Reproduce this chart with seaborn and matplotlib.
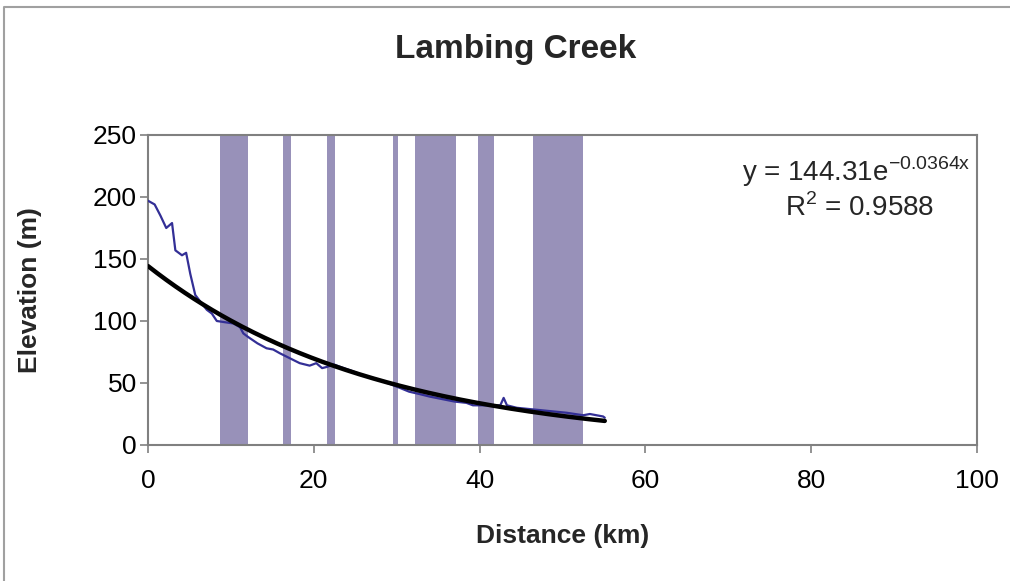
#!/usr/bin/env python3
# -*- coding: utf-8 -*-
"""Longitudinal profile of Lambing Creek with exponential trend and shaded reaches"""
import numpy as np
import pandas as pd
import matplotlib

matplotlib.use("Agg")
import matplotlib.pyplot as plt
from matplotlib.lines import Line2D
import seaborn as sns

# channel profile (distance km, elevation m)
distance_km = [0.0, 0.8, 1.5, 2.2, 2.9, 3.3, 4.1, 4.6, 5.1, 5.7, 6.5, 7.1, 7.7,
               8.3, 9.3, 10.3, 11.1, 11.5, 12.1, 13.2, 14.3, 15.1, 15.9, 17.1,
               18.3, 19.5, 20.3, 21.0, 21.6, 22.4, 23.2, 24.5, 26.0, 27.2, 28.5,
               30.4, 31.5, 32.8, 34.0, 35.5, 37.0, 38.4, 39.2, 40.5, 41.8, 42.5,
               42.9, 43.3, 44.5, 46.0, 47.5, 49.0, 50.5, 51.5, 52.5, 53.3, 54.9,
               55.1]
elevation_m = [197, 194, 185, 175, 179, 157, 153, 155, 138, 121, 114, 109, 106,
               100, 99, 98, 95, 90, 87, 82, 78, 77, 74, 70,
               66, 64, 66, 62, 63, 65, 63, 60, 56, 54, 51,
               46, 43, 41, 39, 37, 35, 34, 32, 32, 32, 32,
               38, 32, 30, 29, 28, 27, 26, 25, 24, 25, 23,
               22]

# shaded reaches (start km, end km)
band_start = [8.7, 16.3, 21.6, 29.5, 32.2, 39.8, 46.5]
band_end = [12.1, 17.2, 22.6, 30.1, 37.2, 41.7, 52.5]

# exponential trendline shown on the chart
fit_a = 144.31
fit_b = -0.0364
r_squared = 0.9588

x_ticks = [0, 20, 40, 60, 80, 100]
y_ticks = [0, 50, 100, 150, 200, 250]

sns.set_theme(style="white")
plt.rcParams["font.family"] = ["Liberation Sans", "DejaVu Sans"]
plt.rcParams["mathtext.fontset"] = "custom"
plt.rcParams["mathtext.rm"] = "Liberation Sans"

profile = pd.DataFrame({"distance": distance_km, "elevation": elevation_m})
trend_x = np.linspace(0, max(distance_km), 200)
trend = pd.DataFrame({"distance": trend_x, "elevation": fit_a * np.exp(fit_b * trend_x)})

fig = plt.figure(figsize=(10.1, 5.81), dpi=100)
ax = fig.add_axes([148 / 1010, 1 - 445 / 581, (977 - 148) / 1010, (445 - 135) / 581])

for s, e in zip(band_start, band_end):
    ax.axvspan(s, e, color="#9891b9", lw=0, zorder=1)

sns.lineplot(data=profile, x="distance", y="elevation", ax=ax, color="#332f96",
             lw=1.6, zorder=3)
sns.lineplot(data=trend, x="distance", y="elevation", ax=ax, color="black",
             lw=3.2, zorder=4)

ax.set_xlim(0, 100)
ax.set_ylim(0, 250)
ax.set_xticks(x_ticks)
ax.set_yticks(y_ticks)
ax.tick_params(axis="both", labelsize=19, colors="#808080", labelcolor="black",
               length=6, width=1.2, direction="out")
ax.tick_params(axis="x", bottom=True, pad=11)
ax.tick_params(axis="y", left=True, pad=2)
for sp in ax.spines.values():
    sp.set_color("#808080")
    sp.set_linewidth(1.5)

ax.set_xlabel("Distance (km)", fontsize=19, fontweight="bold")
ax.set_ylabel("Elevation (m)", fontsize=19, fontweight="bold")
ax.xaxis.set_label_coords(0.5, -0.255)
ax.yaxis.set_label_coords(-0.128, 0.5)

fig.text(0.511, 0.914, "Lambing Creek", ha="center", va="center",
         fontsize=24, fontweight="bold")

ax.text(0.992, 0.88, "y = %.2fe$^{\\mathregular{%.4fx}}$" % (fit_a, fit_b),
        transform=ax.transAxes, ha="right", va="center", fontsize=20)
ax.text(0.949, 0.765, "R$^{\\mathregular{2}}$ = %.4f" % r_squared,
        transform=ax.transAxes, ha="right", va="center", fontsize=20)

# partial outer frame of the original chart object
fig.lines.append(Line2D([4 / 1010, 4 / 1010, 1.0], [0.0, 1 - 7 / 581, 1 - 7 / 581],
                        transform=fig.transFigure, color="#a0a0a0", lw=1.5))

fig.savefig("out.png", dpi=100)
